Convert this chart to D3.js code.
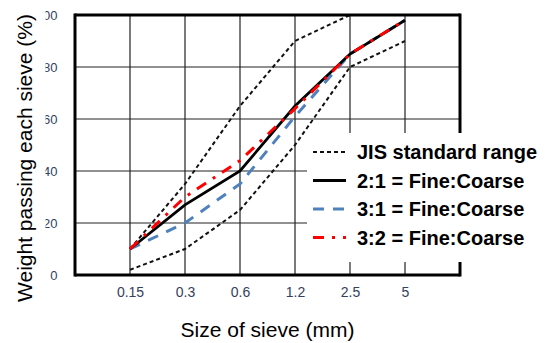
<!DOCTYPE html>
<html>
<head>
<meta charset="utf-8">
<script src="https://cdn.jsdelivr.net/npm/d3@7"></script>
<style>
body { margin: 0; background: #fff; }
text { font-family: "Liberation Sans", Arial, sans-serif; }
</style>
</head>
<body>
<svg id="chart" width="548" height="343"></svg>
<script>
// sieve sizes (mm) and % passing
const sieves = ["0.15", "0.3", "0.6", "1.2", "2.5", "5"];
const jisUpper = [10, 35, 65, 90, 100, 100];
const jisLower = [2, 10, 25, 50, 80, 90];
const mix21 = [10, 27, 40, 65, 85, 98];
const mix31 = [10, 20, 35, 61, 85, 98];
const mix32 = [10, 30, 44, 64, 85, 98];
const yTicks = [0, 20, 40, 60, 80, 100];
const legendLabels = ["JIS standard range", "2:1 = Fine:Coarse", "3:1 = Fine:Coarse", "3:2 = Fine:Coarse"];

const svg = d3.select("#chart");
const plotLeft = 75, plotRight = 460, plotTop = 15, plotBottom = 275;

const x = d3.scalePoint().domain(sieves).range([plotLeft, plotRight]).padding(1);
const y = d3.scaleLinear().domain([0, 100]).range([plotBottom, plotTop]);

// grid
svg.append("g").selectAll("line")
    .data(sieves).enter()
    .append("line")
    .attr("x1", d => x(d)).attr("x2", d => x(d))
    .attr("y1", plotTop).attr("y2", plotBottom)
    .attr("stroke", "#222").attr("stroke-width", 1.2);

svg.append("g").selectAll("line")
    .data(yTicks.filter(d => d > 0 && d < 100)).enter()
    .append("line")
    .attr("x1", plotLeft).attr("x2", plotRight)
    .attr("y1", d => y(d)).attr("y2", d => y(d))
    .attr("stroke", "#222").attr("stroke-width", 1.2);

// axis labels (y labels are clipped at the left like the source image)
svg.append("clipPath").attr("id", "yclip")
    .append("rect").attr("x", 45.5).attr("y", 0).attr("width", 30).attr("height", 300);

const xAxis = svg.append("g")
    .attr("transform", `translate(0,${plotBottom})`)
    .call(d3.axisBottom(x).tickSize(0).tickPadding(12));
xAxis.select(".domain").remove();
xAxis.selectAll("text").attr("font-size", 14).attr("fill", "#34405e");

const yWrap = svg.append("g").attr("clip-path", "url(#yclip)");
const yAxis = yWrap.append("g")
    .attr("transform", `translate(${plotLeft},0)`);
yAxis.call(d3.axisLeft(y).tickValues(yTicks).tickSize(0).tickPadding(17.5));
yAxis.select(".domain").remove();
yAxis.selectAll("text").attr("font-size", 13).attr("fill", "#34405e");

// series
const line = d3.line().x((d, i) => x(sieves[i])).y(d => y(d));
const series = [
    { values: jisUpper, color: "#111", width: 2, dash: "4,3" },
    { values: jisLower, color: "#111", width: 2, dash: "4,3" },
    { values: mix31, color: "#4f81bd", width: 3, dash: "11,9" },
    { values: mix21, color: "#000", width: 2.8, dash: null },
    { values: mix32, color: "#ff0000", width: 3, dash: "11,8,3,8" }
];
svg.append("g").selectAll("path")
    .data(series).enter()
    .append("path")
    .attr("d", d => line(d.values))
    .attr("fill", "none")
    .attr("stroke", d => d.color)
    .attr("stroke-width", d => d.width)
    .attr("stroke-dasharray", d => d.dash);

// frame
const frame = svg.append("g").attr("stroke", "#000").attr("stroke-width", 3);
frame.append("line").attr("x1", plotLeft).attr("x2", plotLeft).attr("y1", plotTop - 1.5).attr("y2", plotBottom + 1.5);
frame.append("line").attr("x1", plotLeft).attr("x2", plotRight).attr("y1", plotBottom).attr("y2", plotBottom);
frame.append("line").attr("x1", plotLeft).attr("x2", plotRight).attr("y1", plotTop).attr("y2", plotTop);
frame.append("line").attr("x1", plotRight).attr("x2", plotRight).attr("y1", plotTop - 1.5).attr("y2", plotBottom + 1.5);

// legend
const legendStyles = [series[0], series[3], series[2], series[4]];
svg.append("rect").attr("x", 307).attr("y", 133).attr("width", 241).attr("height", 129).attr("fill", "#fff");
const legend = svg.append("g").selectAll("g")
    .data(legendLabels).enter()
    .append("g")
    .attr("transform", (d, i) => `translate(313,${152 + i * 28.5})`);
legend.append("line")
    .attr("x1", 0).attr("x2", 33)
    .attr("stroke", (d, i) => legendStyles[i].color)
    .attr("stroke-width", (d, i) => legendStyles[i].width)
    .attr("stroke-dasharray", (d, i) => legendStyles[i].dash);
legend.append("text")
    .attr("x", 44).attr("y", 7)
    .attr("font-size", 20).attr("font-weight", "bold")
    .text(d => d);

// axis titles
svg.append("text")
    .attr("x", (plotLeft + plotRight) / 2).attr("y", 337)
    .attr("text-anchor", "middle").attr("font-size", 21)
    .text("Size of sieve (mm)");
svg.append("text")
    .attr("transform", "translate(32,158) rotate(-90)")
    .attr("text-anchor", "middle").attr("font-size", 21)
    .text("Weight passing each sieve (%)");
</script>
</body>
</html>
